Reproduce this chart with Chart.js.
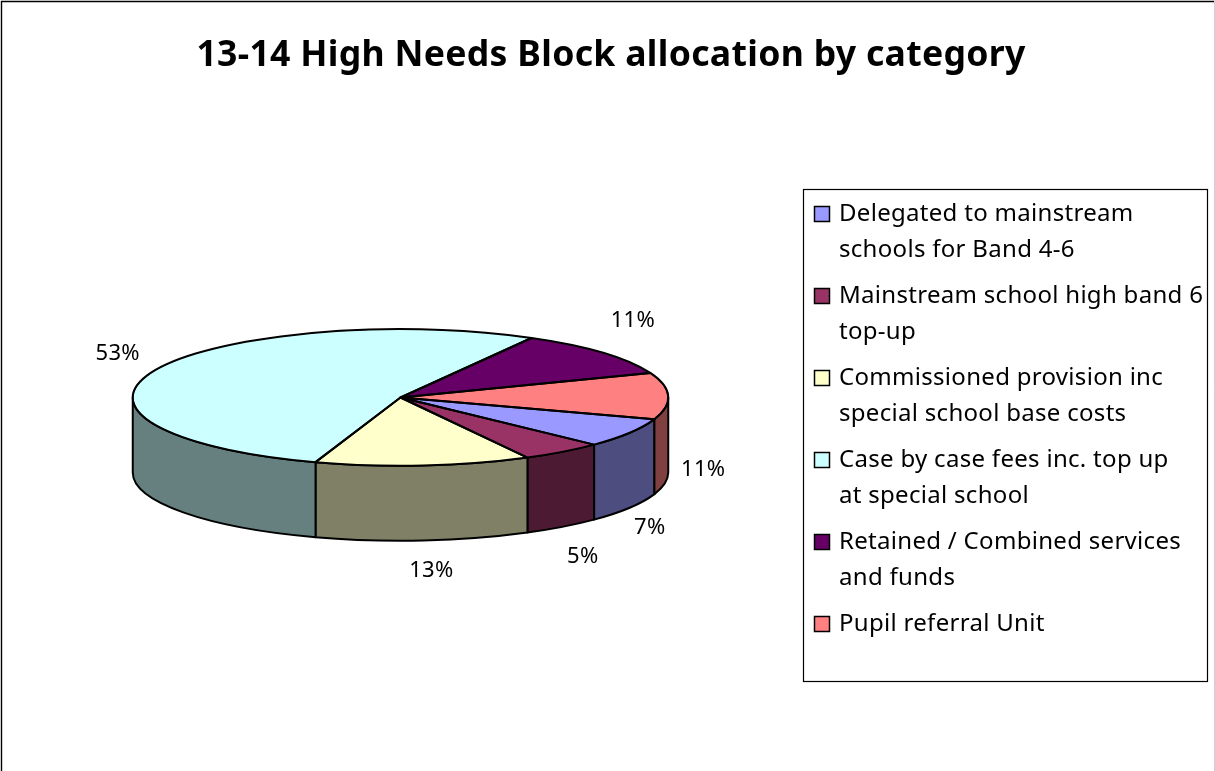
<!DOCTYPE html>
<html>
<head>
<meta charset="utf-8">
<style>
  html, body { margin: 0; padding: 0; background: #fff; overflow: hidden; }
  canvas { display: block; }
</style>
<script src="https://cdn.jsdelivr.net/npm/chart.js@4/dist/chart.umd.min.js"></script>
</head>
<body>
<canvas id="chart" width="1215" height="771"></canvas>
<script>
const chartTitle = '13-14 High Needs Block allocation by category';
const categories = [
  ['Delegated to mainstream', 'schools for Band 4-6'],
  ['Mainstream school high band 6', 'top-up'],
  ['Commissioned provision inc', 'special school base costs'],
  ['Case by case fees inc. top up', 'at special school'],
  ['Retained / Combined services', 'and funds'],
  ['Pupil referral Unit']
];
const shares = [7, 5, 13, 53, 11, 11];
const topColors = ['#9999FF', '#993366', '#FFFFCC', '#CCFFFF', '#660066', '#FF8080'];
const wallColors = ['#4D4D80', '#4D1A33', '#808066', '#668080', '#330033', '#804040'];

// Label displacement from the rim point at each slice's middle angle.
const labelOffsets = [[20, 95], [20, 105], [8, 105], [-38, -16], [30, -32], [35, 74]];

const FONT = '"Noto Sans", sans-serif';
const SQUASH = 68 / 267;   // vertical foreshortening of the pie's top face
const DEPTH = 75;          // height of the pie's side wall
const PIE_BOX = { left: 132, right: 669, top: 129, bottom: 666 };
const LEGEND_BOX = { left: 803.5, top: 189.5, right: 1207.5, bottom: 681.5 };

// Pins the plot circle, the title and the legend to fixed places on the page.
const pinLayout = {
  id: 'pinLayout',
  afterLayout(chart) {
    const a = PIE_BOX;
    chart.chartArea = { ...a, width: a.right - a.left, height: a.bottom - a.top };
    Object.assign(chart.legend, { left: 807, right: LEGEND_BOX.right, top: 192, bottom: LEGEND_BOX.bottom });
    Object.assign(chart.titleBlock, { left: 0, right: 1222, top: 31, bottom: 83 });
  }
};

// Page frame and legend outline.
const frames = {
  id: 'frames',
  beforeDraw(chart) {
    const { ctx, width, height } = chart;
    ctx.save();
    ctx.fillStyle = '#fff';
    ctx.fillRect(0, 0, width, height);
    ctx.strokeStyle = '#000';
    ctx.lineWidth = 1.4;
    ctx.beginPath();
    ctx.moveTo(1.5, height);
    ctx.lineTo(1.5, 1.5);
    ctx.lineTo(width - 1, 1.5);
    ctx.stroke();
    ctx.strokeStyle = '#d0d0d0';
    ctx.lineWidth = 1;
    ctx.beginPath();
    ctx.moveTo(width - 0.5, 0);
    ctx.lineTo(width - 0.5, height);
    ctx.stroke();
    ctx.strokeStyle = '#000';
    ctx.lineWidth = 1.2;
    const b = LEGEND_BOX;
    ctx.strokeRect(b.left, b.top, b.right - b.left, b.bottom - b.top);
    ctx.restore();
    // Slightly open tracking for every text on the page.
    ctx.letterSpacing = '0.3px';
  }
};

// Squashes the arcs into an ellipse, adds the side wall and rim, and writes the percentages.
const tiltedPie = {
  id: 'tiltedPie',
  beforeDatasetDraw(chart, args) {
    const { ctx } = chart;
    const arcs = args.meta.data;
    const { x: cx, y: cy, outerRadius: rx } = arcs[0];
    const ry = rx * SQUASH;
    const TAU = Math.PI * 2;

    ctx.save();
    ctx.strokeStyle = '#000';
    ctx.lineWidth = 2;
    ctx.lineJoin = 'round';
    arcs.forEach((arc, i) => {
      // The part of a slice that faces the viewer lies where the sine is positive.
      for (const turn of [0, TAU]) {
        const from = Math.max(arc.startAngle, turn);
        const to = Math.min(arc.endAngle, turn + Math.PI);
        if (to <= from) continue;
        ctx.beginPath();
        ctx.ellipse(cx, cy, rx, ry, 0, from, to);
        ctx.ellipse(cx, cy + DEPTH, rx, ry, 0, to, from, true);
        ctx.closePath();
        ctx.fillStyle = wallColors[i];
        ctx.fill();
        ctx.stroke();
      }
    });
    ctx.restore();

    ctx.save();
    ctx.translate(0, cy);
    ctx.scale(1, SQUASH);
    ctx.translate(0, -cy);
  },
  afterDatasetDraw(chart, args) {
    const { ctx } = chart;
    ctx.restore();

    const arcs = args.meta.data;
    const { x: cx, y: cy, outerRadius: rx } = arcs[0];
    const ry = rx * SQUASH;

    ctx.save();
    ctx.strokeStyle = '#000';
    ctx.lineWidth = 2;
    ctx.lineJoin = 'round';
    arcs.forEach(arc => {
      ctx.beginPath();
      ctx.moveTo(cx, cy);
      ctx.ellipse(cx, cy, rx, ry, 0, arc.startAngle, arc.endAngle);
      ctx.closePath();
      ctx.stroke();
    });

    ctx.fillStyle = '#000';
    ctx.font = '22px ' + FONT;
    ctx.textAlign = 'center';
    ctx.textBaseline = 'middle';
    arcs.forEach((arc, i) => {
      const mid = (arc.startAngle + arc.endAngle) / 2;
      const [dx, dy] = labelOffsets[i];
      ctx.fillText(shares[i] + '%', cx + rx * Math.cos(mid) + dx, cy + ry * Math.sin(mid) + dy);
    });
    ctx.restore();
  }
};

new Chart(document.getElementById('chart'), {
  type: 'pie',
  data: {
    labels: categories,
    datasets: [{
      data: shares,
      backgroundColor: topColors,
      borderColor: '#000',
      borderWidth: 1.5
    }]
  },
  options: {
    responsive: false,
    animation: false,
    rotation: 108.5,
    plugins: {
      tooltip: { enabled: false },
      title: {
        display: true,
        text: chartTitle,
        color: '#000',
        padding: 0,
        font: { family: FONT, size: 35.6, weight: 'bold', lineHeight: 1.4 }
      },
      legend: {
        position: 'right',
        align: 'start',
        labels: {
          color: '#000',
          usePointStyle: true,
          pointStyle: 'rect',
          boxWidth: 10,
          boxHeight: 15,
          padding: 10,
          font: { family: FONT, size: 24, lineHeight: 1.5 }
        }
      }
    }
  },
  plugins: [pinLayout, frames, tiltedPie]
});
</script>
</body>
</html>
